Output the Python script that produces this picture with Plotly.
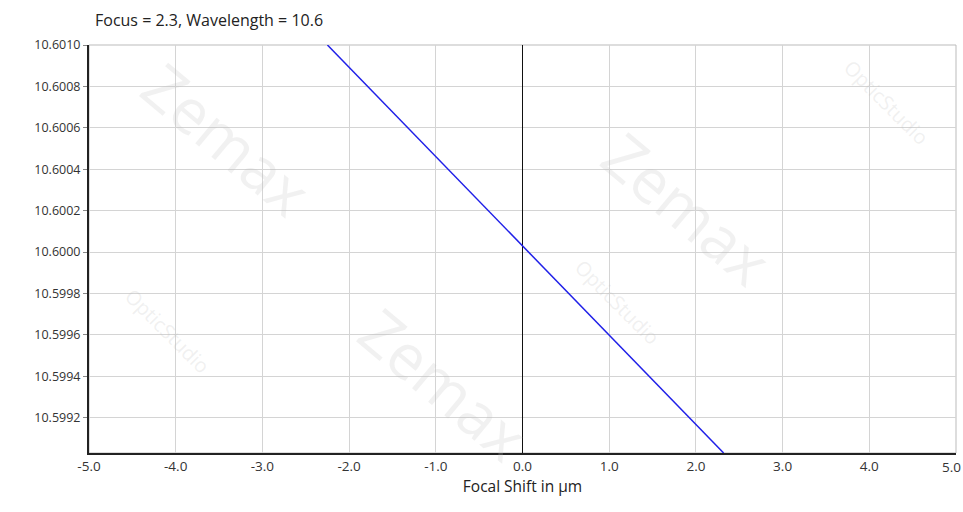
import plotly.graph_objects as go

# Data
focal_shift = [-2.25, 0.0, 2.32]          # µm
wavelength = [10.6010, 10.60003, 10.59903]  # µm
x_ticks = [-5.0, -4.0, -3.0, -2.0, -1.0, 0.0, 1.0, 2.0, 3.0, 4.0, 5.0]
y_ticks = [10.5992, 10.5994, 10.5996, 10.5998, 10.6000, 10.6002, 10.6004, 10.6006, 10.6008, 10.6010]
title_text = "Focus = 2.3, Wavelength = 10.6"
x_title = "Focal Shift in µm"

font_family = "Open Sans, DejaVu Sans, sans-serif"

fig = go.Figure()
fig.add_trace(go.Scatter(x=focal_shift, y=wavelength, mode="lines",
                         line=dict(color="#2020e8", width=1.5), showlegend=False))

# faint watermarks
wm = [("Zemax", 0.16, 0.77, 40, 62), ("OpticStudio", 0.09, 0.30, 45, 20),
      ("Zemax", 0.69, 0.60, 40, 62), ("OpticStudio", 0.61, 0.37, 45, 20),
      ("Zemax", 0.41, 0.17, 40, 62), ("OpticStudio", 0.92, 0.86, 45, 20)]
for t, xx, yy, ang, sz in wm:
    fig.add_annotation(text=t, x=xx, y=yy, xref="paper", yref="paper", showarrow=False,
                       xanchor="center", yanchor="middle",
                       textangle=ang, font=dict(size=sz, color="rgba(190,190,190,0.22)",
                                                family=font_family))

fig.add_annotation(text=title_text, x=0.005, y=1.0, xref="paper", yref="paper",
                   xanchor="left", yanchor="middle", yshift=25, showarrow=False,
                   font=dict(size=16, color="#222", family=font_family))

# last x tick label kept fully inside the window (it sits at the right edge)
x_ticktext = [f"{v:.1f}" for v in x_ticks]
last_label = x_ticktext[-1]
x_ticktext[-1] = ""
fig.add_annotation(text=last_label, x=x_ticks[-1], y=0, xref="x", yref="paper",
                   xanchor="right", yanchor="top", xshift=7, yshift=-3, showarrow=False,
                   font=dict(size=13.5, color="#333", family=font_family))

fig.update_layout(
    width=963, height=512,
    margin=dict(l=89, r=7, t=45, b=59),
    paper_bgcolor="white", plot_bgcolor="white",
    font=dict(family=font_family, size=12.5, color="#333"),
    xaxis=dict(range=[-5, 5], tickvals=x_ticks, ticktext=x_ticktext,
               showgrid=True, gridcolor="#d4d4d4", gridwidth=1,
               zeroline=True, zerolinecolor="#111", zerolinewidth=1,
               showline=True, linecolor="#222", linewidth=2, mirror=False,
               ticks="", ticklen=0, tickfont=dict(size=13.5), ticklabeloverflow="allow",
               automargin=False,
               title=dict(text=x_title, font=dict(size=15.5, color="#222"), standoff=4)),
    yaxis=dict(range=[10.59903, 10.6010], tickvals=y_ticks,
               ticktext=[f"{v:.4f}" for v in y_ticks],
               showgrid=True, gridcolor="#d4d4d4", gridwidth=1,
               zeroline=False, showline=True, linecolor="#222", linewidth=2,
               ticks="outside", ticklen=4, tickcolor="#888", automargin=False),
    shapes=[dict(type="rect", xref="paper", yref="paper", x0=0, x1=1, y0=0, y1=1,
                 line=dict(color="#bbb", width=1), layer="below")],
)

fig.write_html("out.html", config={"displayModeBar": False},
               post_script="document.body.style.margin='0';")
